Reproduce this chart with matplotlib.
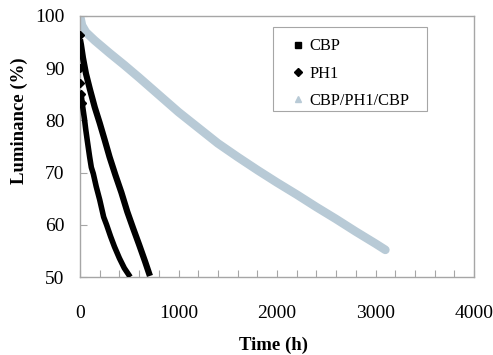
import matplotlib
matplotlib.use("Agg")
import matplotlib.pyplot as plt
from matplotlib.lines import Line2D
from matplotlib.patches import Rectangle
from matplotlib.ticker import MultipleLocator

# Data
cbp_t = [0, 10, 30, 60, 100, 150, 200, 250, 300, 360, 420, 480, 540, 600, 660, 710]
cbp_L = [95.5, 94.5, 92, 89, 86, 82.5, 79.5, 76.3, 73, 69.5, 66.2, 62.5, 59.3, 56.2, 53, 50.2]

ph1_t = [0, 2, 5, 12, 22, 32, 45, 58, 75, 98, 115, 135, 165, 200, 240, 270, 310, 350, 400, 450, 510]
ph1_L = [96.4, 90, 87.2, 85, 83.3, 82, 80.3, 78.3, 76, 73, 71, 69.8, 67.3, 64.8, 61.5, 60, 57.8, 55.8, 53.6, 51.7, 50]

stack_t = [0, 20, 60, 150, 300, 450, 600, 800, 1000, 1200, 1400, 1600, 1800,
           2000, 2200, 2400, 2600, 2800, 3000, 3100]
stack_L = [100, 98.2, 96.9, 95.3, 92.9, 90.6, 88.2, 84.9, 81.6, 78.6, 75.6, 73, 70.5,
           68.1, 65.8, 63.4, 61.1, 58.7, 56.4, 55.2]

series_names = ["CBP", "PH1", "CBP/PH1/CBP"]
x_ticks = [0, 1000, 2000, 3000, 4000]
y_ticks = [50, 60, 70, 80, 90, 100]

plt.rcParams['font.family'] = ['Liberation Serif', 'DejaVu Serif']

W, H = 493, 355
fig = plt.figure(figsize=(W/100, H/100), dpi=100)
ax = fig.add_axes([80/W, 1-277/H, (474-80)/W, (277-16)/H])

blue = '#b8cad6'
gray = '#a6a6a6'

ax.plot(stack_t, stack_L, color=blue, lw=6.2, solid_capstyle='round', solid_joinstyle='round', zorder=2)
ax.plot(cbp_t, cbp_L, color='black', lw=4.5, solid_capstyle='butt', solid_joinstyle='round', zorder=3)
ax.plot(ph1_t[3:], ph1_L[3:], color='black', lw=4.0, solid_capstyle='butt', solid_joinstyle='round', zorder=3)
ax.plot(ph1_t[:5], ph1_L[:5], linestyle='none', marker='D', ms=4, color='black', zorder=3)

ax.set_xlim(0, 4000)
ax.set_ylim(50, 100)
ax.set_xticks(x_ticks)
ax.set_yticks(y_ticks)
ax.xaxis.set_minor_locator(MultipleLocator(200))

for s in ax.spines.values():
    s.set_color(gray)
    s.set_linewidth(1.0)

ax.tick_params(axis='both', which='both', direction='in', color=gray, length=5, width=0.8,
               labelsize=14)
ax.tick_params(axis='x', which='major', pad=20)
ax.tick_params(axis='y', which='major', pad=11)
ax.tick_params(axis='y', which='minor', left=False)

ax.set_xlabel('Time (h)', fontsize=13.5, fontweight='bold')
ax.set_ylabel('Luminance (%)', fontsize=13.5, fontweight='bold')
ax.xaxis.set_label_coords(0.49, -0.23)
ax.yaxis.set_label_coords(-0.132, 0.598)

handles = [
    Line2D([], [], linestyle='none', marker='s', ms=4, color='black'),
    Line2D([], [], linestyle='none', marker='D', ms=4, color='black'),
    Line2D([], [], linestyle='none', marker='^', ms=5, color=blue),
]
leg = fig.legend(handles, series_names, loc='upper left',
                 bbox_to_anchor=(291/W, 1-38.5/H),
                 frameon=False, fontsize=11.8,
                 handlelength=0.8, handletextpad=0.3, borderpad=0,
                 labelspacing=0.68, borderaxespad=0)

fig.patches.append(Rectangle((273/W, 1-111/H), (427-273)/W, (111-27)/H,
                             transform=fig.transFigure, fill=False,
                             edgecolor=gray, linewidth=0.8, zorder=5))

fig.savefig('out.png', dpi=100)
